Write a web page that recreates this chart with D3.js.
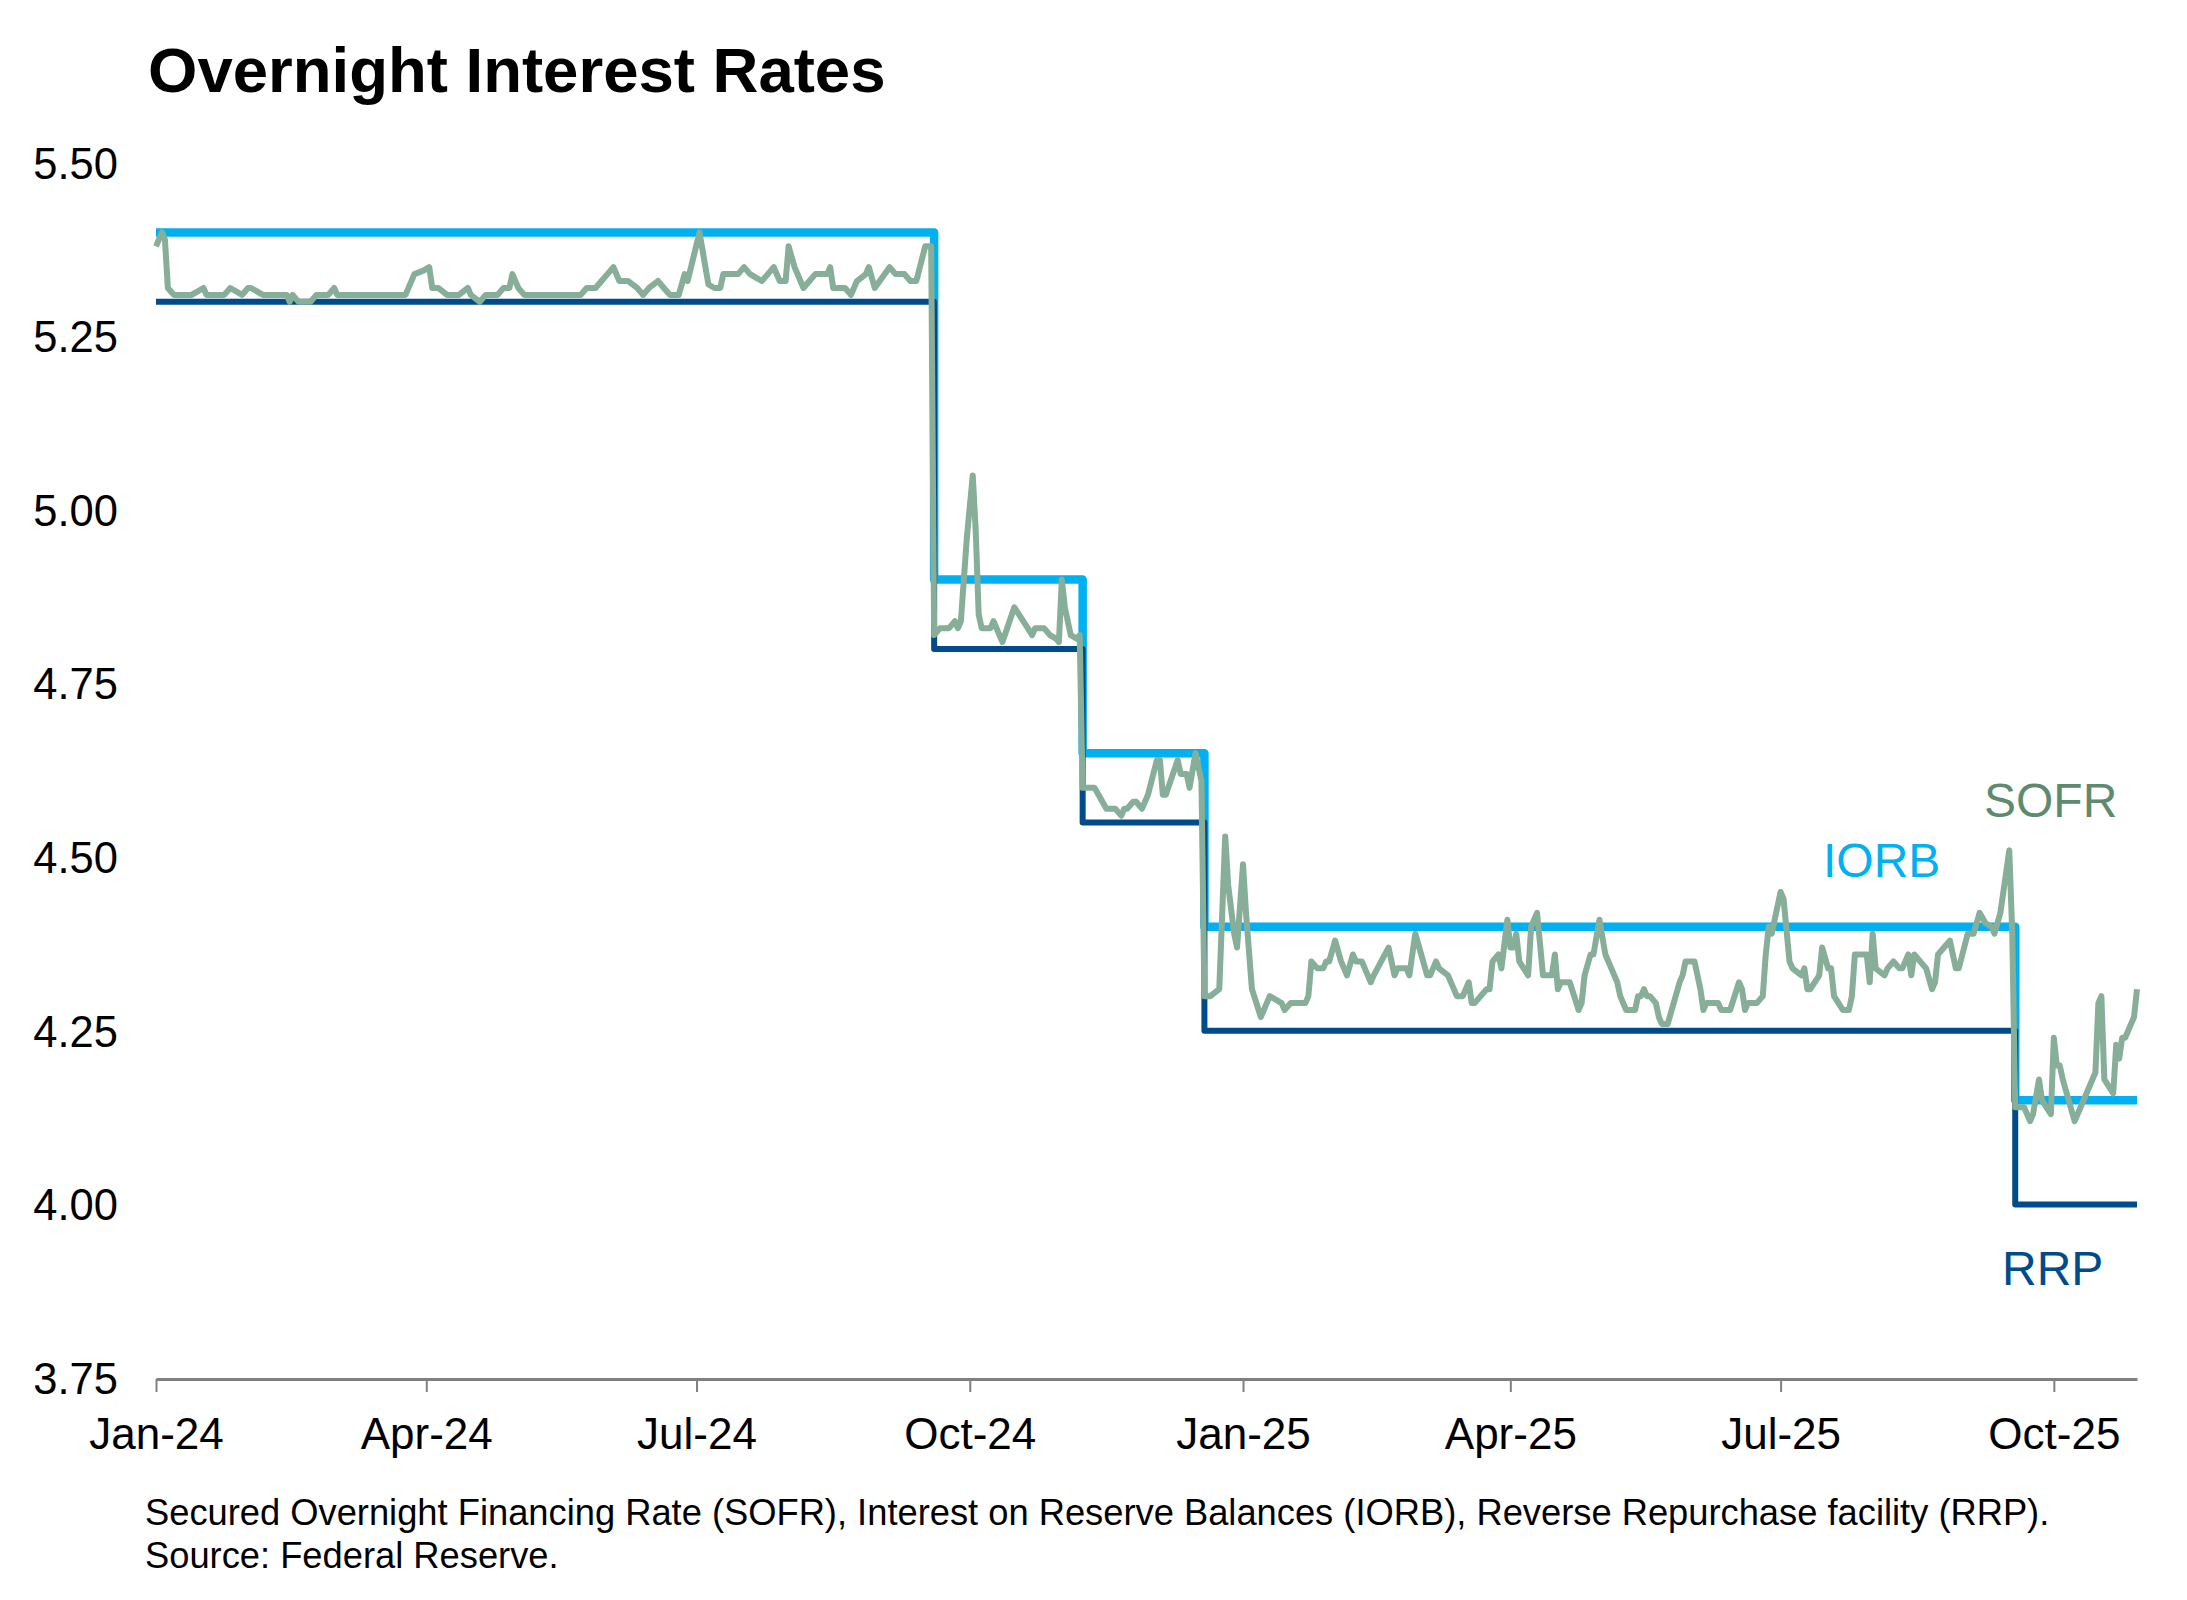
<!DOCTYPE html>
<html>
<head>
<meta charset="utf-8">
<script src="https://cdn.jsdelivr.net/npm/d3@7"></script>
<style>
  body { margin: 0; background: #ffffff; }
  text { font-family: "Liberation Sans", Arial, sans-serif; }
</style>
</head>
<body>
<div id="overnight_rates_chart"></div>
<script>
// Overnight interest rates: SOFR against the IORB / RRP corridor

// Policy rates (value holds from each date until the next one)
var iorbDates = ["2024-01-01", "2024-09-19", "2024-11-08", "2024-12-19", "2025-09-18"];
var iorbValues = [5.40, 4.90, 4.65, 4.40, 4.15];
var rrpDates = ["2024-01-01", "2024-09-19", "2024-11-08", "2024-12-19", "2025-09-18"];
var rrpValues = [5.30, 4.80, 4.55, 4.25, 4.00];
var lastDate = "2025-10-29";

// SOFR
var sofrDates = [
    "2024-01-01","2024-01-03","2024-01-04","2024-01-05","2024-01-07","2024-01-13","2024-01-17","2024-01-18",
    "2024-01-24","2024-01-26","2024-01-30","2024-02-01","2024-02-02","2024-02-06","2024-02-14","2024-02-15",
    "2024-02-16","2024-02-18","2024-02-22","2024-02-24","2024-02-28","2024-03-01","2024-03-02","2024-03-25",
    "2024-03-28","2024-03-31","2024-04-02","2024-04-03","2024-04-05","2024-04-08","2024-04-12","2024-04-15",
    "2024-04-16","2024-04-19","2024-04-21","2024-04-25","2024-04-27","2024-04-29","2024-04-30","2024-05-02",
    "2024-05-04","2024-05-23","2024-05-25","2024-05-28","2024-05-30","2024-06-01","2024-06-03","2024-06-05",
    "2024-06-08","2024-06-11","2024-06-13","2024-06-15","2024-06-18","2024-06-20","2024-06-22","2024-06-25",
    "2024-06-27","2024-06-28","2024-07-02","2024-07-04","2024-07-05","2024-07-07","2024-07-09","2024-07-10",
    "2024-07-15","2024-07-17","2024-07-19","2024-07-21","2024-07-23","2024-07-25","2024-07-27","2024-07-29",
    "2024-07-31","2024-08-01","2024-08-03","2024-08-06","2024-08-08","2024-08-10","2024-08-14","2024-08-15",
    "2024-08-16","2024-08-20","2024-08-22","2024-08-24","2024-08-27","2024-08-28","2024-08-30","2024-09-04",
    "2024-09-06","2024-09-09","2024-09-11","2024-09-13","2024-09-16","2024-09-18","2024-09-19","2024-09-21",
    "2024-09-24","2024-09-26","2024-09-27","2024-09-28","2024-09-30","2024-10-02","2024-10-03","2024-10-04",
    "2024-10-05","2024-10-08","2024-10-09","2024-10-12","2024-10-16","2024-10-19","2024-10-22","2024-10-23",
    "2024-10-26","2024-10-28","2024-10-30","2024-10-31","2024-11-01","2024-11-02","2024-11-04","2024-11-06",
    "2024-11-07","2024-11-08","2024-11-12","2024-11-16","2024-11-19","2024-11-21","2024-11-22","2024-11-23",
    "2024-11-25","2024-11-26","2024-11-28","2024-11-30","2024-12-03","2024-12-04","2024-12-05","2024-12-06",
    "2024-12-10","2024-12-11","2024-12-13","2024-12-14","2024-12-16","2024-12-17","2024-12-18","2024-12-19",
    "2024-12-21","2024-12-24","2024-12-26","2024-12-27","2024-12-29","2024-12-30","2025-01-01","2025-01-02",
    "2025-01-04","2025-01-07","2025-01-09","2025-01-10","2025-01-14","2025-01-15","2025-01-17","2025-01-22",
    "2025-01-23","2025-01-24","2025-01-26","2025-01-28","2025-01-29","2025-01-30","2025-02-01","2025-02-03",
    "2025-02-05","2025-02-07","2025-02-08","2025-02-10","2025-02-11","2025-02-13","2025-02-14","2025-02-19",
    "2025-02-21","2025-02-22","2025-02-25","2025-02-26","2025-02-28","2025-03-04","2025-03-05","2025-03-07",
    "2025-03-08","2025-03-11","2025-03-14","2025-03-16","2025-03-18","2025-03-19","2025-03-20","2025-03-22",
    "2025-03-24","2025-03-25","2025-03-26","2025-03-28","2025-03-29","2025-03-31","2025-04-01","2025-04-02",
    "2025-04-03","2025-04-04","2025-04-07","2025-04-08","2025-04-10","2025-04-12","2025-04-15","2025-04-16",
    "2025-04-17","2025-04-18","2025-04-21","2025-04-24","2025-04-25","2025-04-26","2025-04-28","2025-04-29",
    "2025-05-01","2025-05-03","2025-05-05","2025-05-07","2025-05-08","2025-05-10","2025-05-13","2025-05-14",
    "2025-05-15","2025-05-16","2025-05-17","2025-05-18","2025-05-20","2025-05-21","2025-05-22","2025-05-24",
    "2025-05-26","2025-05-28","2025-05-29","2025-05-30","2025-06-02","2025-06-04","2025-06-05","2025-06-06",
    "2025-06-10","2025-06-11","2025-06-14","2025-06-17","2025-06-18","2025-06-19","2025-06-20","2025-06-23",
    "2025-06-25","2025-06-26","2025-06-27","2025-06-28","2025-07-01","2025-07-02","2025-07-04","2025-07-05",
    "2025-07-08","2025-07-09","2025-07-10","2025-07-11","2025-07-14","2025-07-15","2025-07-17","2025-07-18",
    "2025-07-19","2025-07-22","2025-07-24","2025-07-25","2025-07-26","2025-07-30","2025-07-31","2025-08-01",
    "2025-08-02","2025-08-05","2025-08-06","2025-08-08","2025-08-10","2025-08-11","2025-08-13","2025-08-14",
    "2025-08-15","2025-08-19","2025-08-21","2025-08-22","2025-08-23","2025-08-25","2025-08-27","2025-08-29",
    "2025-08-30","2025-09-02","2025-09-04","2025-09-06","2025-09-08","2025-09-10","2025-09-11","2025-09-13",
    "2025-09-16","2025-09-17","2025-09-18","2025-09-21","2025-09-23","2025-09-24","2025-09-26","2025-09-27",
    "2025-09-30","2025-10-01","2025-10-02","2025-10-03","2025-10-04","2025-10-06","2025-10-08","2025-10-10",
    "2025-10-12","2025-10-14","2025-10-15","2025-10-16","2025-10-17","2025-10-18","2025-10-21","2025-10-22",
    "2025-10-23","2025-10-24","2025-10-25","2025-10-26","2025-10-28","2025-10-29"
];
var sofrValues = [
    5.38, 5.40, 5.39, 5.32, 5.31, 5.31, 5.32, 5.31,
    5.31, 5.32, 5.31, 5.32, 5.32, 5.31, 5.31, 5.30,
    5.31, 5.30, 5.30, 5.31, 5.31, 5.32, 5.31, 5.31,
    5.34, 5.345, 5.35, 5.32, 5.32, 5.31, 5.31, 5.32,
    5.31, 5.30, 5.31, 5.31, 5.32, 5.32, 5.34, 5.32,
    5.31, 5.31, 5.32, 5.32, 5.33, 5.34, 5.35, 5.33,
    5.33, 5.32, 5.31, 5.32, 5.33, 5.32, 5.31, 5.31,
    5.34, 5.33, 5.40, 5.35, 5.325, 5.32, 5.32, 5.34,
    5.34, 5.35, 5.34, 5.335, 5.33, 5.34, 5.35, 5.33,
    5.33, 5.38, 5.35, 5.32, 5.33, 5.34, 5.34, 5.35,
    5.32, 5.32, 5.31, 5.33, 5.34, 5.35, 5.32, 5.35,
    5.34, 5.34, 5.33, 5.33, 5.38, 5.38, 4.82, 4.83,
    4.83, 4.84, 4.83, 4.84, 4.96, 5.05, 4.97, 4.85,
    4.83, 4.83, 4.84, 4.81, 4.86, 4.84, 4.82, 4.83,
    4.83, 4.82, 4.815, 4.81, 4.90, 4.86, 4.82, 4.815,
    4.82, 4.60, 4.60, 4.57, 4.57, 4.56, 4.57, 4.57,
    4.58, 4.58, 4.57, 4.59, 4.64, 4.64, 4.59, 4.59,
    4.64, 4.62, 4.62, 4.60, 4.65, 4.63, 4.61, 4.30,
    4.30, 4.31, 4.53, 4.46, 4.39, 4.37, 4.49, 4.42,
    4.31, 4.27, 4.29, 4.30, 4.29, 4.28, 4.29, 4.29,
    4.30, 4.35, 4.34, 4.34, 4.35, 4.35, 4.38, 4.35,
    4.33, 4.36, 4.35, 4.35, 4.34, 4.32, 4.33, 4.37,
    4.33, 4.34, 4.34, 4.33, 4.39, 4.33, 4.33, 4.35,
    4.34, 4.33, 4.30, 4.30, 4.32, 4.29, 4.29, 4.30,
    4.31, 4.31, 4.35, 4.36, 4.34, 4.41, 4.37, 4.37,
    4.39, 4.35, 4.33, 4.40, 4.42, 4.33, 4.33, 4.36,
    4.31, 4.32, 4.32, 4.28, 4.29, 4.33, 4.36, 4.36,
    4.41, 4.36, 4.34, 4.32, 4.30, 4.28, 4.28, 4.30,
    4.30, 4.31, 4.30, 4.30, 4.29, 4.27, 4.26, 4.26,
    4.29, 4.32, 4.33, 4.35, 4.35, 4.31, 4.28, 4.29,
    4.29, 4.28, 4.28, 4.32, 4.31, 4.28, 4.29, 4.29,
    4.30, 4.36, 4.40, 4.39, 4.45, 4.44, 4.35, 4.34,
    4.33, 4.34, 4.31, 4.31, 4.33, 4.37, 4.34, 4.34,
    4.30, 4.28, 4.28, 4.30, 4.36, 4.36, 4.32, 4.39,
    4.34, 4.33, 4.34, 4.35, 4.34, 4.34, 4.36, 4.33,
    4.36, 4.34, 4.31, 4.32, 4.36, 4.37, 4.38, 4.34,
    4.34, 4.39, 4.39, 4.42, 4.405, 4.40, 4.39, 4.42,
    4.51, 4.39, 4.14, 4.14, 4.12, 4.13, 4.18, 4.15,
    4.13, 4.24, 4.20, 4.20, 4.18, 4.15, 4.12, 4.14,
    4.16, 4.18, 4.19, 4.29, 4.30, 4.18, 4.16, 4.23,
    4.21, 4.24, 4.24, 4.25, 4.27, 4.31
];

// Axis ticks
var yTicks = [3.75, 4.00, 4.25, 4.50, 4.75, 5.00, 5.25, 5.50];

// Size of the picture and of the plot area
var width = 2187,
    height = 1600,
    plotLeft = 156,
    plotRight = 2137,
    plotTop = 163,
    plotBottom = 1378;

var parseDate = d3.timeParse("%Y-%m-%d");

// Build point lists for the lines (step series get the end date appended)
function stepPoints(dates, values) {
    var pts = [];
    for (let i = 0; i < dates.length; i++) {
        pts.push([parseDate(dates[i]), values[i]]);
    }
    pts.push([parseDate(lastDate), values[values.length - 1]]);
    return pts;
}
var iorbData = stepPoints(iorbDates, iorbValues);
var rrpData = stepPoints(rrpDates, rrpValues);
var sofrData = [];
for (let i = 0; i < sofrDates.length; i++) {
    sofrData.push([parseDate(sofrDates[i]), sofrValues[i]]);
}

var x = d3.scaleTime()
    .domain([parseDate("2024-01-01"), parseDate(lastDate)])
    .range([plotLeft, plotRight]);
var y = d3.scaleLinear()
    .domain([3.75, 5.50])
    .range([plotBottom, plotTop]);

var svg = d3.select("#overnight_rates_chart")
    .append("svg")
    .attr("width", width)
    .attr("height", height);

// Title
svg.append("text")
    .attr("x", 148)
    .attr("y", 92)
    .text("Overnight Interest Rates")
    .style("font-size", "63.5px")
    .style("font-weight", "bold")
    .style("fill", "#000");

// Y axis: labels only, no line
var yAxis = svg.append("g")
    .attr("transform", "translate(118,0)")
    .call(d3.axisLeft(y).tickValues(yTicks).tickFormat(d3.format(".2f")).tickSize(0).tickPadding(0));
yAxis.select(".domain").remove();
yAxis.selectAll("text")
    .attr("dy", "0.35em")
    .style("font-size", "43.5px")
    .style("font-family", "'Liberation Sans', Arial, sans-serif")
    .style("fill", "#000");

// X axis: quarterly ticks
var xAxis = svg.append("g")
    .attr("transform", "translate(0," + 1379 + ")")
    .call(d3.axisBottom(x).ticks(d3.timeMonth.every(3)).tickFormat(d3.timeFormat("%b-%y")).tickSize(13).tickSizeOuter(0));
xAxis.select(".domain")
    .attr("stroke", "#808080")
    .attr("stroke-width", 3);
xAxis.selectAll(".tick line")
    .attr("stroke", "#808080")
    .attr("stroke-width", 2);
xAxis.selectAll("text")
    .attr("y", 70)
    .attr("dy", 0)
    .style("font-size", "44px")
    .style("font-family", "'Liberation Sans', Arial, sans-serif")
    .style("fill", "#000");

// Lines
var stepLine = d3.line()
    .x(function(d) { return x(d[0]); })
    .y(function(d) { return y(d[1]); })
    .curve(d3.curveStepAfter);
var plainLine = d3.line()
    .x(function(d) { return x(d[0]); })
    .y(function(d) { return y(d[1]); });

svg.append("path")
    .datum(iorbData)
    .attr("d", stepLine)
    .attr("fill", "none")
    .attr("stroke", "#00B0F0")
    .attr("stroke-width", 8.5)
    .attr("stroke-linejoin", "round");

svg.append("path")
    .datum(rrpData)
    .attr("d", stepLine)
    .attr("fill", "none")
    .attr("stroke", "#004C8A")
    .attr("stroke-width", 6)
    .attr("stroke-linejoin", "round");

svg.append("path")
    .datum(sofrData)
    .attr("d", plainLine)
    .attr("fill", "none")
    .attr("stroke", "#87AE98")
    .attr("stroke-width", 6)
    .attr("stroke-linejoin", "round");

// Series labels
var seriesLabels = [
    {text: "SOFR", x: 1984, y: 817, color: "#5E8B70"},
    {text: "IORB", x: 1823, y: 877, color: "#00B0F0"},
    {text: "RRP", x: 2002, y: 1285, color: "#004C8A"}
];
for (let i = 0; i < seriesLabels.length; i++) {
    svg.append("text")
        .attr("x", seriesLabels[i].x)
        .attr("y", seriesLabels[i].y)
        .text(seriesLabels[i].text)
        .style("font-size", "48px")
        .style("fill", seriesLabels[i].color);
}

// Footnote
svg.append("text")
    .attr("x", 145)
    .attr("y", 1525)
    .text("Secured Overnight Financing Rate (SOFR), Interest on Reserve Balances (IORB), Reverse Repurchase facility (RRP).")
    .style("font-size", "36.3px")
    .style("fill", "#000");
svg.append("text")
    .attr("x", 145)
    .attr("y", 1568)
    .text("Source: Federal Reserve.")
    .style("font-size", "36.3px")
    .style("fill", "#000");
</script>
</body>
</html>
